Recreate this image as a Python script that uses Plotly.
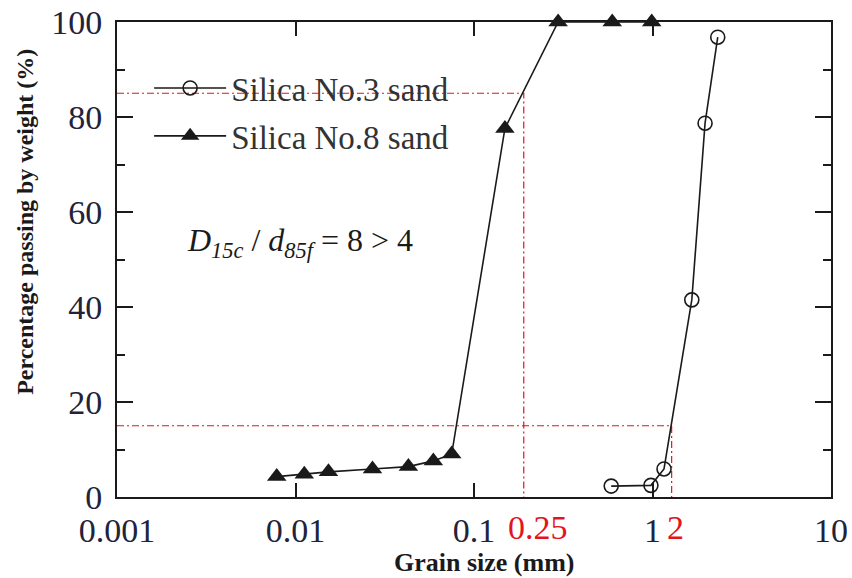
import math
import plotly.graph_objects as go

# ---- data ----
no3_size = [0.587, 0.98, 1.16, 1.66, 1.97, 2.32]
no3_pass = [2.3, 2.45, 5.9, 41.5, 78.7, 96.8]

no8_size = [0.00785, 0.0112, 0.0153, 0.027, 0.0429, 0.0592, 0.075, 0.149, 0.296, 0.595, 0.99]
no8_pass = [4.3, 4.8, 5.3, 5.9, 6.4, 7.6, 9.05, 77.6, 100, 100, 100]

# reference guide lines (x positions, y = 85 % and 15 %)
guide_d85_x = 0.19
guide_d85_y = 85
guide_d15_x = 1.28
guide_d15_y = 15
x_min = 0.001

xtick_vals = [0.001, 0.01, 0.1, 1, 10]
xtick_text = ["0.001", "0.01", "0.1", "1", "10"]
ytick_vals = [0, 20, 40, 60, 80, 100]

red_labels = [("0.25", 0.229), ("2", 1.354)]

FONT = "Liberation Serif, Times New Roman, serif"
RED = "#e3141c"
INK = "#1a1a1a"
TICKC = "#22223a"

fig = go.Figure()

# guide lines
dash = "7px,3px,2px,3px"
fig.add_trace(go.Scatter(x=[x_min, guide_d85_x, guide_d85_x], y=[guide_d85_y, guide_d85_y, 0],
                         mode="lines", line=dict(color=RED, width=1.2, dash=dash),
                         showlegend=False, hoverinfo="skip"))
fig.add_trace(go.Scatter(x=[x_min, guide_d15_x, guide_d15_x], y=[guide_d15_y, guide_d15_y, 0],
                         mode="lines", line=dict(color=RED, width=1.2, dash=dash),
                         showlegend=False, hoverinfo="skip"))

fig.add_trace(go.Scatter(x=no3_size, y=no3_pass, mode="lines+markers", name="Silica No.3 sand",
                         legendgroup="a",
                         line=dict(color=INK, width=1.6),
                         marker=dict(symbol="circle-open", size=14, color=INK, line=dict(width=1.6)),
                         cliponaxis=False))
fig.add_trace(go.Scatter(x=no8_size, y=no8_pass, mode="lines+markers", name="Silica No.8 sand",
                         legendgroup="b",
                         line=dict(color=INK, width=1.6),
                         marker=dict(symbol="triangle-up", size=17, color=INK),
                         cliponaxis=False))

fig.update_xaxes(type="log", range=[-3, 1], tickvals=xtick_vals, ticktext=xtick_text,
                 ticks="inside", ticklen=14, tickwidth=2, tickcolor=INK,
                 showline=True, linecolor=INK, linewidth=2, mirror="ticks",
                 showgrid=False, zeroline=False, automargin=False,
                 tickfont=dict(family=FONT, size=34, color=TICKC), ticklabelstandoff=2)
fig.update_yaxes(range=[0, 100], tickvals=ytick_vals,
                 ticks="inside", ticklen=16, tickwidth=2, tickcolor=INK,
                 minor=dict(tickvals=[10, 30, 50, 70, 90], ticks="inside", ticklen=8, tickwidth=1.5, tickcolor=INK),
                 showline=True, linecolor=INK, linewidth=2, mirror="ticks",
                 showgrid=False, zeroline=False, automargin=False,
                 tickfont=dict(family=FONT, size=34, color=TICKC), ticklabelstandoff=6)

ann = []
for txt, xv in red_labels:
    ann.append(dict(x=math.log10(xv), y=0, xref="x", yref="y", text=txt, showarrow=False,
                    xanchor="center", yanchor="top", yshift=-10,
                    font=dict(family=FONT, size=34, color=RED)))
ann.append(dict(x=0.095, y=0.535, xref="paper", yref="paper", xanchor="left", yanchor="middle",
                text="<i>D</i><sub><i>15c</i></sub> / <i>d</i><sub><i>85f</i></sub> = 8 &gt; 4",
                showarrow=False, font=dict(family=FONT, size=32, color=INK)))
ann.append(dict(x=-0.129, y=0.579, xref="paper", yref="paper", textangle=-90,
                xanchor="center", yanchor="middle",
                text="<b>Percentage passing by weight (%)</b>", showarrow=False,
                font=dict(family=FONT, size=24, color=INK)))
ann.append(dict(x=0.515, y=-0.137, xref="paper", yref="paper", xanchor="center", yanchor="middle",
                text="<b>Grain size (mm)</b>", showarrow=False,
                font=dict(family=FONT, size=26, color=INK)))

fig.update_layout(
    width=852, height=578,
    margin=dict(l=117, r=21, t=22, b=81, autoexpand=False),
    paper_bgcolor="white", plot_bgcolor="white",
    showlegend=True,
    legend=dict(x=0.045, y=0.92, xanchor="left", yanchor="top", bgcolor="rgba(0,0,0,0)",
                font=dict(family=FONT, size=33, color="#333333"), itemwidth=72,
                traceorder="grouped", tracegroupgap=2),
    annotations=ann,
)

fig.write_html("out.html")
